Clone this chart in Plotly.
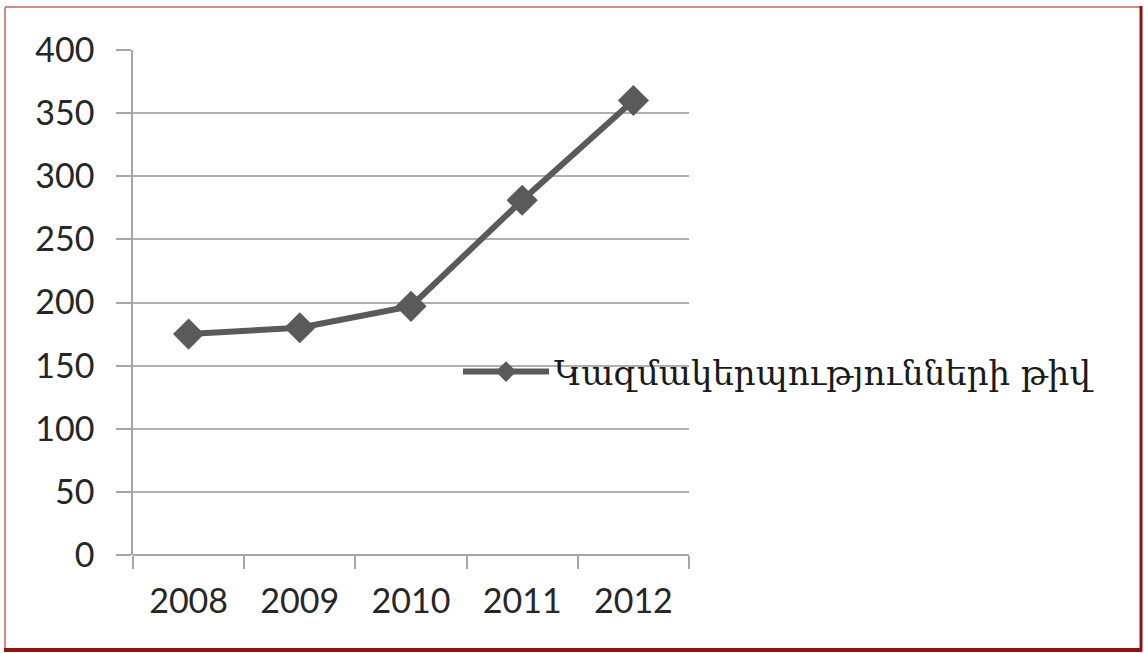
import plotly.graph_objects as go

# Number of organisations per year
years = ["2008", "2009", "2010", "2011", "2012"]
counts = [175, 180, 197, 281, 360]
series_name = "Կազմակերպությունների թիվ"
y_ticks = [0, 50, 100, 150, 200, 250, 300, 350, 400]

W, H = 1144, 653
L, R, T, B = 133, 455, 50, 98
pw, ph = W - L - R, H - T - B


def px_x(x):
    return (x - L) / pw


def px_y(y):
    return (H - B - y) / ph


fig = go.Figure()
fig.add_trace(go.Scatter(
    x=years, y=counts, name=series_name, mode="lines+markers",
    line=dict(color="#5a5a5a", width=6),
    marker=dict(symbol="diamond", size=24, color="#5a5a5a"),
    showlegend=True,
))

# outer frame of the chart
frame_light = "#cf8a8a"
frame_dark = "#8e1414"
fig.add_shape(type="line", xref="paper", yref="paper",
              x0=px_x(5), x1=px_x(1141), y0=px_y(7), y1=px_y(7),
              line=dict(color=frame_light, width=2))
fig.add_shape(type="line", xref="paper", yref="paper",
              x0=px_x(5), x1=px_x(5), y0=px_y(7), y1=px_y(650),
              line=dict(color=frame_light, width=2))
fig.add_shape(type="line", xref="paper", yref="paper",
              x0=px_x(1141), x1=px_x(1141), y0=px_y(6), y1=px_y(651),
              line=dict(color=frame_dark, width=3))
fig.add_shape(type="line", xref="paper", yref="paper",
              x0=px_x(4), x1=px_x(1142), y0=px_y(650), y1=px_y(650),
              line=dict(color=frame_dark, width=4))

tick_font = dict(family="Lato, 'Open Sans', sans-serif", size=34, color="#262626")

fig.update_layout(
    width=W, height=H,
    margin=dict(l=L, r=R, t=T, b=B, autoexpand=False),
    paper_bgcolor="white", plot_bgcolor="white",
    showlegend=True,
    legend=dict(
        x=px_x(458), y=px_y(372), xanchor="left", yanchor="middle",
        font=dict(family="'DejaVu Serif', serif", size=34, color="#1a1a1a"),
        bgcolor="rgba(0,0,0,0)", itemwidth=86,
    ),
    xaxis=dict(
        type="category", tickson="boundaries", ticks="outside", ticklen=13,
        tickcolor="#a6a6a6", tickwidth=1.5,
        showgrid=False, showline=False, zeroline=False,
        tickfont=tick_font, ticklabelstandoff=23,
        range=[-0.5, 4.5],
    ),
    yaxis=dict(
        range=[0, 400], tickvals=y_ticks, ticks="outside", ticklen=15,
        tickcolor="#a6a6a6", tickwidth=1.5,
        showgrid=True, gridcolor="#b0b0b0", gridwidth=1.5,
        showline=True, linecolor="#a6a6a6", linewidth=1.5,
        zeroline=True, zerolinecolor="#a6a6a6", zerolinewidth=1.5,
        tickfont=tick_font, ticklabelstandoff=15,
    ),
)

fig.write_html("out.html")
